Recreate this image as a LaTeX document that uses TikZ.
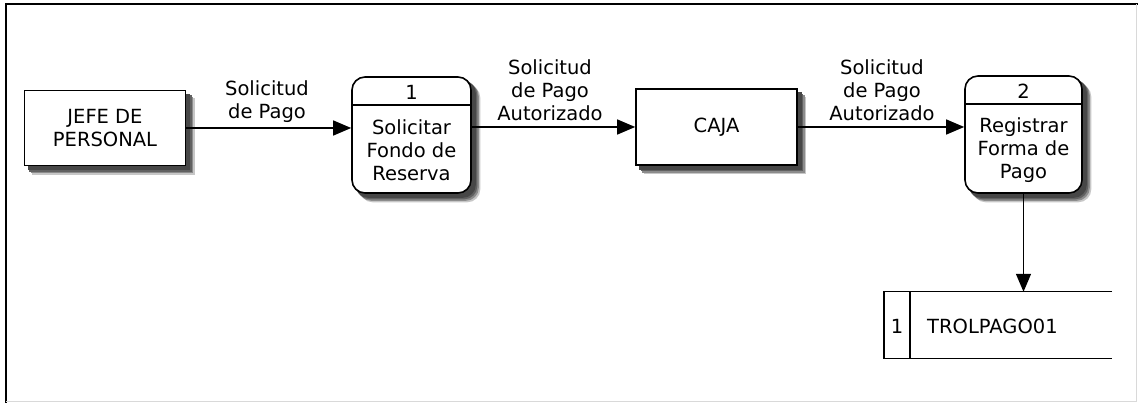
\documentclass[tikz,border=0pt]{standalone}
\usepackage{fontspec}
\setmainfont{DejaVu Sans}
\usetikzlibrary{arrows.meta}
\pgfdeclarelayer{background}
\pgfsetlayers{background,main}
\begin{document}
\begin{tikzpicture}[x=1pt,y=-1pt,
  every node/.style={font=\fontsize{19.5}{23}\selectfont},
  entity/.style={draw,line width=1.6pt,fill=white,rectangle,align=center,
      inner sep=0pt},
  process/.style={draw,line width=1.6pt,fill=white,rectangle,
      rounded corners=13pt,inner sep=0pt},
  ptext/.style={align=center,inner sep=0pt},
  flowlabel/.style={align=center,inner sep=0pt},
  flow/.style={line width=1.3pt,-{Triangle[length=18pt,width=15pt]}},
]
\useasboundingbox (0,0) rectangle (1138,403);

% outer frame
\draw[line width=2pt] (6,403) -- (6,4) -- (1138,4);
\draw[black!15,line width=1pt] (1136,4) -- (1136,401) -- (6,401);

% external entities
\node[entity,minimum width=161pt,minimum height=75pt] (jefe) at (105,128)
  {JEFE DE\\PERSONAL};
\node[entity,minimum width=161pt,minimum height=76pt] (caja) at (716.5,127)
  {CAJA};

% process 1
\node[process,minimum width=119pt,minimum height=116pt] (p1) at (411.5,135) {};
\draw[line width=1.3pt] (p1.west |- 0,105) -- (p1.east |- 0,105);
\node[ptext] (p1num) at (411.5,92) {1};
\node[ptext] (p1txt) at (411.5,150) {Solicitar\\Fondo de\\Reserva};

% process 2
\node[process,minimum width=117pt,minimum height=117pt] (p2) at (1023.5,134.5) {};
\draw[line width=1.3pt] (p2.west |- 0,104) -- (p2.east |- 0,104);
\node[ptext] (p2num) at (1023.5,91) {2};
\node[ptext] (p2txt) at (1023.5,150) {Registrar\\Forma de\\Pago};

% soft drop shadows behind the boxes
\begin{pgfonlayer}{background}
  \foreach \d/\c in {8.5/22,7/45,5.5/62,4/72} {
    \foreach \n in {jefe,caja}
      \fill[black!\c] ([shift={(\d,\d)}]\n.north west)
        rectangle ([shift={(\d,\d)}]\n.south east);
    \foreach \n in {p1,p2}
      \fill[black!\c,rounded corners=13pt] ([shift={(\d,\d)}]\n.north west)
        rectangle ([shift={(\d,\d)}]\n.south east);
  }
\end{pgfonlayer}

% data store
\node[minimum width=228pt,minimum height=66pt,inner sep=0pt] (store) at (998,325) {};
\draw[line width=1.4pt] (store.north east) -- (store.north west)
  -- (store.south west) -- (store.south east);
\draw[line width=1.4pt] (910,292) -- (910,358);
\node[ptext] (snum) at (897,326) {1};
\node[ptext,anchor=west] (sname) at (927,326) {TROLPAGO01};

% data flows
\draw[flow] (jefe.east) -- (jefe.east -| p1.west);
\draw[flow] (p1.east |- caja.west) -- (caja.west);
\draw[flow] (caja.east) -- (caja.east -| p2.west);
\draw[flow] (p2.south) -- (p2.south |- store.north);

% flow labels
\node[flowlabel] (l1) at (267,101.5) {Solicitud\\de Pago};
\node[flowlabel] (l2) at (550,90) {Solicitud\\de Pago\\Autorizado};
\node[flowlabel] (l3) at (882,90) {Solicitud\\de Pago\\Autorizado};
\end{tikzpicture}
\end{document}
